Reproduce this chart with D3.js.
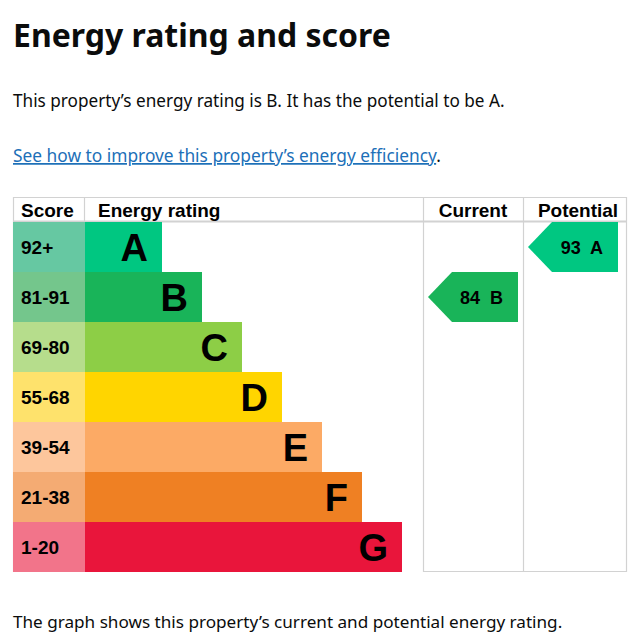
<!DOCTYPE html>
<html>
<head>
<meta charset="utf-8">
<script src="https://cdn.jsdelivr.net/npm/d3@7"></script>
<style>
  html, body { margin: 0; padding: 0; background: #fff; }
  svg { display: block; }
</style>
</head>
<body>
<svg id="chart"></svg>
<script>
// Bands, top (best) to bottom (worst)
const bands = ["A", "B", "C", "D", "E", "F", "G"];
const scoreRanges = ["92+", "81-91", "69-80", "55-68", "39-54", "21-38", "1-20"];
const bandColours = ["#00c781", "#19b459", "#8dce46", "#ffd500", "#fcaa65", "#ef8023", "#e9153b"];
const scoreColours = ["#66c8a2", "#74c68c", "#b6dd8c", "#fee26c", "#fdc69c", "#f4ab73", "#f2748a"];

// Current and potential ratings
const ratings = [
    { column: "Current", score: 84, band: "B" },
    { column: "Potential", score: 93, band: "A" },
];

const columns = ["Current", "Potential"];

const width = 637,
    height = 641,
    textColour = "#0b0c0c",
    gridColour = "#d2d2d2",
    table = { left: 13, right: 627, top: 197, header: 222, bottom: 572 },
    scoreColRight = 85,
    ratingColRight = 423;

const svg = d3.select("#chart")
    .attr("width", width)
    .attr("height", height)
    .attr("viewBox", `0 0 ${width} ${height}`);

// Scale a line of text so it spans the target width
function fitText(sel, targetWidth) {
    const node = sel.node(),
        size = parseFloat(sel.attr("font-size")),
        measured = node.getComputedTextLength();
    sel.attr("font-size", size * targetWidth / measured);
    return sel;
}

const bodyFont = "'Noto Sans', Arial, sans-serif";

fitText(svg.append("text")
    .attr("x", 13)
    .attr("y", 47)
    .attr("font-family", bodyFont)
    .attr("font-weight", 700)
    .attr("font-size", 32)
    .attr("fill", textColour)
    .text("Energy rating and score"), 378);

fitText(svg.append("text")
    .attr("x", 13)
    .attr("y", 107)
    .attr("font-family", bodyFont)
    .attr("font-size", 18)
    .attr("fill", textColour)
    .text("This property’s energy rating is B. It has the potential to be A."), 492);

const link = svg.append("text")
    .attr("x", 13)
    .attr("y", 162)
    .attr("font-family", bodyFont)
    .attr("font-size", 18)
    .attr("fill", textColour);
link.append("tspan")
    .attr("fill", "#1d70b8")
    .attr("text-decoration", "underline")
    .text("See how to improve this property’s energy efficiency");
link.append("tspan").text(".");
fitText(link, 428);

fitText(svg.append("text")
    .attr("x", 13)
    .attr("y", 628)
    .attr("font-family", bodyFont)
    .attr("font-size", 18)
    .attr("fill", textColour)
    .text("The graph shows this property’s current and potential energy rating."), 550);

// Rows and columns
const y = d3.scaleBand()
    .domain(bands)
    .range([table.header, table.bottom]);

const barEnd = d3.scaleLinear()
    .domain([0, bands.length - 1])
    .range([162, 402]);

const colX = d3.scaleBand()
    .domain(columns)
    .range([ratingColRight, ratingColRight + 200]);

const chart = svg.append("g")
    .attr("font-family", "'Liberation Sans', Arial, sans-serif")
    .attr("font-weight", 700)
    .attr("fill", "#000");

// Grid lines
const grid = chart.append("g")
    .attr("stroke", gridColour)
    .attr("stroke-width", 1.2)
    .attr("fill", "none");

grid.append("path")
    .attr("d", `M${table.left},${table.top + 0.5}H${table.right}`);
grid.append("path")
    .attr("stroke-width", 2)
    .attr("d", `M${table.left},${table.header - 0.5}H${table.right}`);
grid.append("path")
    .attr("d", `M${ratingColRight},${table.bottom - 0.5}H${table.right}`);
grid.append("path")
    .attr("d", `M${table.left + 0.5},${table.top}V${table.bottom}M${scoreColRight - 0.5},${table.top}V${table.header}`);
grid.selectAll(".col")
    .data(columns)
    .enter()
    .append("path")
    .attr("d", c => `M${colX(c) + 0.5},${table.top}V${table.bottom}`);
grid.append("path")
    .attr("d", `M${table.right - 0.5},${table.top}V${table.bottom}`);

// Header
const headerBaseline = 217;
chart.append("text")
    .attr("x", 21)
    .attr("y", headerBaseline)
    .attr("font-size", 19)
    .text("Score");
chart.append("text")
    .attr("x", 98)
    .attr("y", headerBaseline)
    .attr("font-size", 19)
    .text("Energy rating");
chart.selectAll(".colhead")
    .data(columns)
    .enter()
    .append("text")
    .attr("x", (c, i) => i === 0 ? colX(c) + colX.bandwidth() / 2 : (colX(c) + table.right) / 2 + 3)
    .attr("y", headerBaseline)
    .attr("font-size", 19)
    .attr("text-anchor", "middle")
    .text(c => c);

// Bands
const rows = chart.selectAll(".band")
    .data(bands)
    .enter()
    .append("g")
    .attr("transform", b => `translate(0,${y(b)})`);

rows.append("rect")
    .attr("x", table.left)
    .attr("width", scoreColRight - table.left)
    .attr("height", y.bandwidth())
    .attr("fill", (b, i) => scoreColours[i]);

rows.append("rect")
    .attr("x", scoreColRight)
    .attr("width", (b, i) => barEnd(i) - scoreColRight)
    .attr("height", y.bandwidth())
    .attr("fill", (b, i) => bandColours[i]);

rows.append("text")
    .attr("x", 21)
    .attr("y", y.bandwidth() / 2 + 7)
    .attr("font-size", 19)
    .text((b, i) => scoreRanges[i]);

rows.append("text")
    .attr("x", (b, i) => barEnd(i) - 14)
    .attr("y", y.bandwidth() / 2 + 13.5)
    .attr("font-size", 38)
    .attr("text-anchor", "end")
    .text(b => b);

// Rating arrows
const arrowDepth = 24,
    arrowInset = 5,
    arrowPad = 5;

const arrows = chart.selectAll(".arrow")
    .data(ratings)
    .enter()
    .append("g")
    .attr("transform", d => `translate(${colX(d.column) + arrowInset},${y(d.band)})`);

arrows.append("path")
    .attr("d", () => {
        const w = colX.bandwidth() - arrowInset - arrowPad,
            h = y.bandwidth();
        return `M0,${h / 2}L${arrowDepth},0H${w}V${h}H${arrowDepth}Z`;
    })
    .attr("fill", d => bandColours[bands.indexOf(d.band)]);

arrows.append("text")
    .attr("x", colX.bandwidth() - arrowInset - arrowPad - 15)
    .attr("y", y.bandwidth() / 2 + 6.5)
    .attr("font-size", 18)
    .attr("text-anchor", "end")
    .attr("xml:space", "preserve")
    .style("white-space", "pre")
    .text(d => `${d.score}  ${d.band}`);
</script>
</body>
</html>
